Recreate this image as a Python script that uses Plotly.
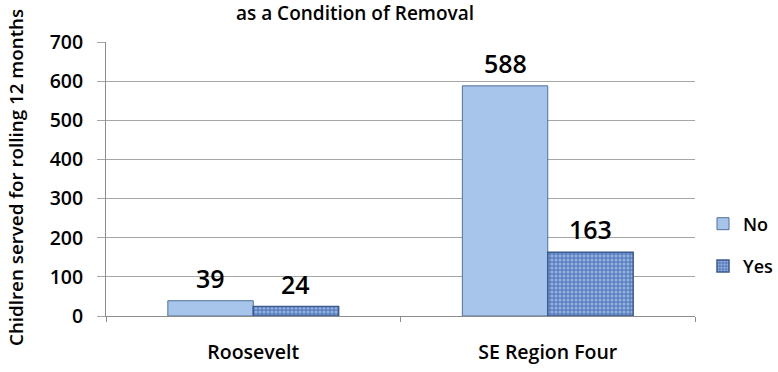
import plotly.graph_objects as go

categories = ["Roosevelt", "SE Region Four"]
no_values = [39, 588]
yes_values = [24, 163]
series_names = ["No", "Yes"]
y_ticks = [0, 100, 200, 300, 400, 500, 600, 700]

FONT = "Open Sans"
W, H = 778, 372
L, R, T, B = 106, 83, 42, 56

fig = go.Figure()
fig.add_trace(go.Bar(
    x=categories, y=no_values, name=series_names[0],
    marker=dict(color="#a7c5ea", line=dict(color="#4f6f9c", width=1)),
    legendgroup="a",
))
fig.add_trace(go.Bar(
    x=categories, y=yes_values, name=series_names[1],
    marker=dict(
        color="#5a80c2",
        line=dict(color="#3b5a8c", width=1.5),
        pattern=dict(shape=".", fgcolor="#d4e2f5", size=4, solidity=0.45),
    ),
    legendgroup="b",
))

# value labels above each bar (offset = half a bar width in category units)
for trace_vals, offset in ((no_values, -0.1443), (yes_values, 0.1443)):
    for i, v in enumerate(trace_vals):
        fig.add_annotation(
            x=i + offset, y=v, text=str(v), showarrow=False,
            yanchor="middle", yshift=23,
            font=dict(family=FONT, size=25, color="#000000", weight=600),
        )

# rotated y-axis title
fig.add_annotation(
    xref="paper", yref="paper", x=(16 - L) / (W - L - R), y=(H - B - 178) / (H - T - B),
    text="Chidlren served for rolling 12 months", textangle=-90,
    showarrow=False, xanchor="center", yanchor="middle",
    font=dict(family=FONT, size=18.8, color="#000000", weight=600),
)

fig.update_layout(
    width=W, height=H,
    margin=dict(l=L, r=R, t=T, b=B, autoexpand=False),
    paper_bgcolor="white", plot_bgcolor="white",
    barmode="group", bargap=0.42, bargroupgap=0,
    font=dict(family=FONT, color="#000000"),
    title=dict(text="as a Condition of Removal", x=355 / W, xanchor="center",
               y=1 - 13 / H, yanchor="middle",
               font=dict(family=FONT, size=19, weight=600)),
    showlegend=True,
    legend=dict(x=(703 - L) / (W - L - R), y=(H - B - 245) / (H - T - B),
                xanchor="left", yanchor="middle",
                font=dict(family=FONT, size=18, weight=600),
                itemwidth=30,
                tracegroupgap=16, bgcolor="rgba(0,0,0,0)"),
    xaxis=dict(showline=True, linecolor="#8c8c8c", linewidth=1,
               ticks="outside", tickson="boundaries", ticklen=5, tickcolor="#8c8c8c",
               ticklabelstandoff=19,
               tickfont=dict(family=FONT, size=19.5, weight=600),
               range=[-0.5, 1.5]),
    yaxis=dict(range=[0, 700], tickvals=y_ticks, showgrid=True,
               gridcolor="#a6a6a6", gridwidth=1, zeroline=False,
               showline=True, linecolor="#8c8c8c", linewidth=1,
               ticks="outside", ticklen=8, tickcolor="#a6a6a6",
               ticklabelstandoff=10,
               tickfont=dict(family=FONT, size=19.5, weight=600)),
)

fig.write_html("out.html")
